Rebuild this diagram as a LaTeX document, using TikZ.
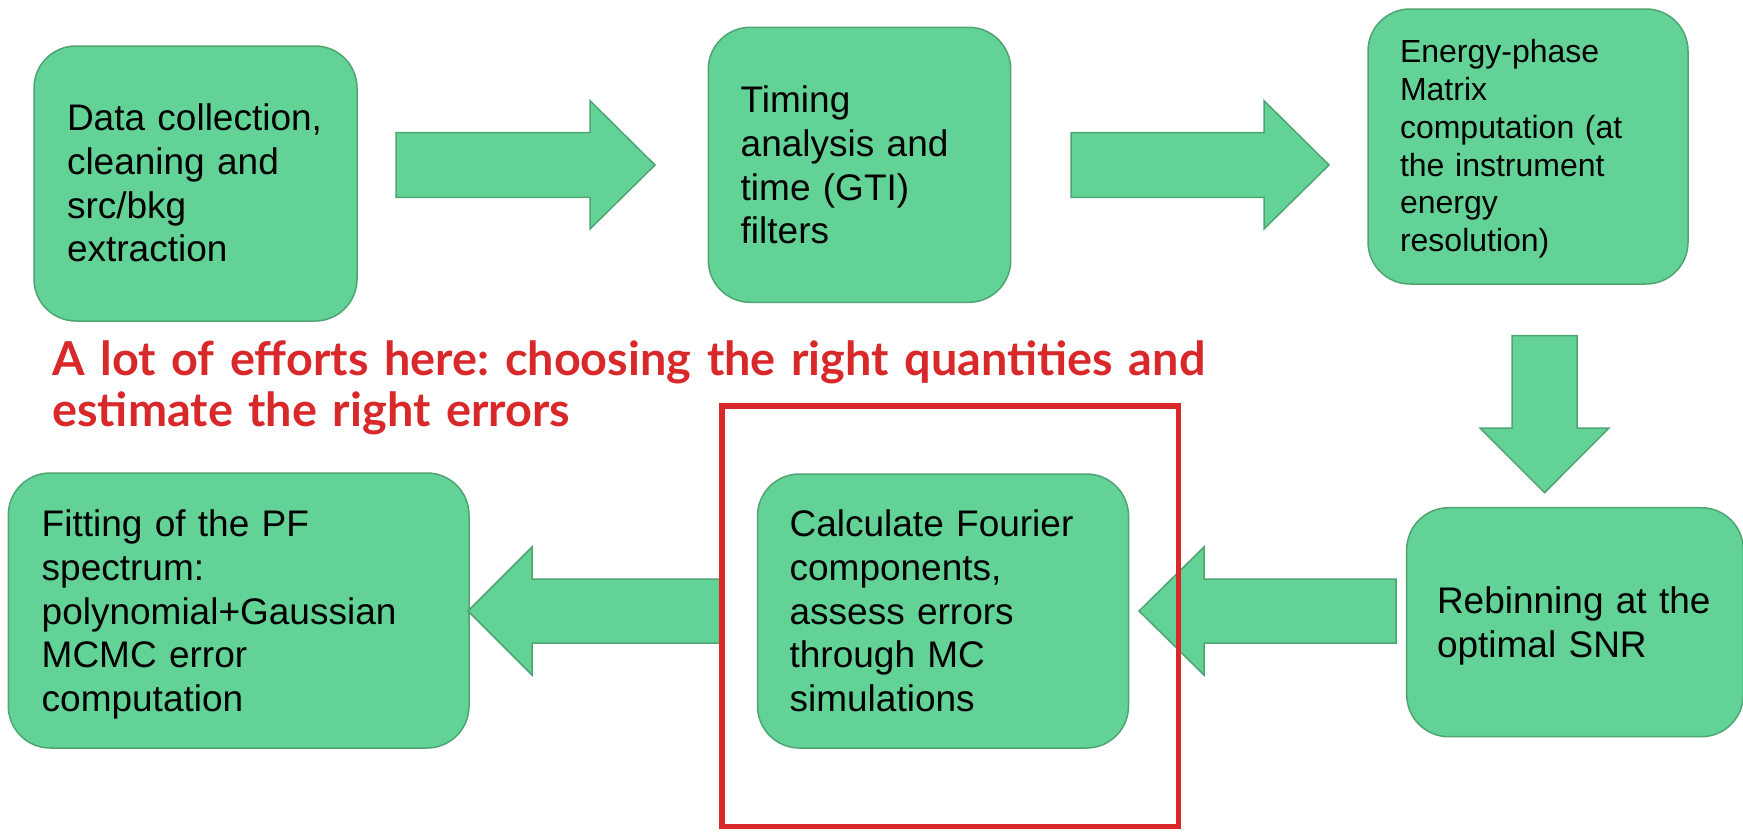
\documentclass[tikz,border=0pt]{standalone}
\usepackage{fontspec}
\setmainfont{Liberation Sans}
\newfontfamily\notefont{Lato}
\definecolor{boxfill}{HTML}{63D297}
\definecolor{boxline}{HTML}{4FA572}
\definecolor{notered}{HTML}{D8282A}
\begin{document}
\frenchspacing
\begin{tikzpicture}[x=0.5pt,y=-0.5pt,
  box/.style={draw=boxline, fill=boxfill, line width=0.75pt, rounded corners=21pt,
    anchor=north west, inner sep=0pt, outer sep=0pt},
  blk/.style={draw=boxline, fill=boxfill, line width=0.75pt, line join=miter},
  txt/.style={anchor=base west, inner sep=0pt, outer sep=0pt, align=left, text width=260pt,
    font=\fontsize{18.5}{21.85}\selectfont},
  txtsmall/.style={txt, font=\fontsize{16}{18.9}\selectfont},
  note/.style={anchor=base west, inner sep=0pt, align=left, text width=700pt, text=notered,
    font=\notefont\bfseries\fontsize{23.4}{25.85}\selectfont\frenchspacing},
  frame/.style={draw=notered, line width=2.75pt}]
\useasboundingbox[fill=white] (0,0) rectangle (1743,831);

% boxes
\node[box, minimum width=161.5pt, minimum height=137.5pt] (b1) at (34,46) {};
\node[box, minimum width=151.2pt, minimum height=137.5pt] (b2) at (708.3,27.3) {};
\node[box, minimum width=160pt, minimum height=137.5pt] (b3) at (1368,9) {};
\node[box, minimum width=168.3pt, minimum height=114.5pt] (b4) at (1406.7,507.7) {};
\node[box, minimum width=185.5pt, minimum height=137pt] (b5) at (757.5,474) {};
\node[box, minimum width=230.35pt, minimum height=137.5pt] (b6) at (8.3,473) {};

% texts
\node[txt] (t1) at (67,130.7) {Data collection,\\cleaning and\\src/bkg\\extraction};
\node[txt] (t2) at (740.7,112.7) {Timing\\analysis and\\time (GTI)\\filters};
\node[txtsmall] (t3) at (1400,62.7) {Energy-phase\\Matrix\\computation (at\\the instrument\\energy\\resolution)};
\node[txt] (t4) at (1437,613.3) {Rebinning at the\\optimal SNR};
\node[txt] (t5) at (789.6,536.7) {Calculate Fourier\\components,\\assess errors\\through MC\\simulations};
\node[txt] (t6) at (41.7,536.7) {Fitting of the PF\\spectrum:\\polynomial+Gaussian\\MCMC error\\computation};

% block arrows
\draw[blk] (396,132.7) -- (590,132.7) -- (590,100.7) -- (655,165) -- (590,229) -- (590,197.3) -- (396,197.3) -- cycle;
\draw[blk] (1071,132.7) -- (1264,132.7) -- (1264,100.7) -- (1329,165) -- (1264,229) -- (1264,197.3) -- (1071,197.3) -- cycle;
\draw[blk] (1512,335.7) -- (1512,428) -- (1480,428) -- (1544.5,492.7) -- (1609,428) -- (1577,428) -- (1577,335.7) -- cycle;
\draw[blk] (1396,579) -- (1204,579) -- (1204,547) -- (1139,611) -- (1204,675) -- (1204,643) -- (1396,643) -- cycle;
\draw[blk] (723,579) -- (532,579) -- (532,547) -- (468,611) -- (532,675) -- (532,643) -- (723,643) -- cycle;

% note
\node[note] (n1) at (52,375) {A lot of efforts here: choosing the right quantities and\\estimate the right errors};

% red frame
\draw[frame] (721.75,405.75) rectangle (1178.25,826.25);
\end{tikzpicture}
\end{document}
